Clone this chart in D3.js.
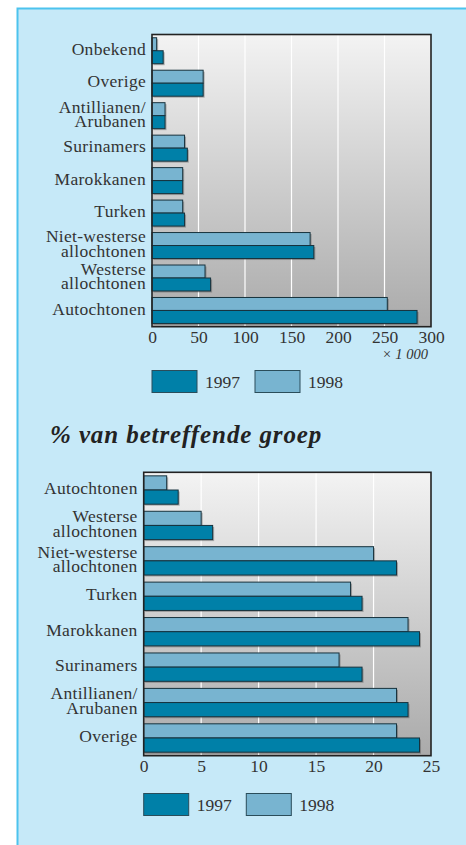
<!DOCTYPE html>
<meta charset="utf-8">
<style>
	body { margin: 0; background: #fff; }
</style>
<svg width="466" height="845"></svg>
<script src="https://d3js.org/d3.v7.min.js"></script>
<script>
	// absolute aantallen (x 1000)
	var catsAbs = ['Onbekend', 'Overige', 'Antillianen/|Arubanen', 'Surinamers', 'Marokkanen', 'Turken',
		'Niet-westerse|allochtonen', 'Westerse|allochtonen', 'Autochtonen']
	var abs1997 = [12, 55, 14, 38, 33, 35, 174, 63, 285]
	var abs1998 = [5, 55, 14, 35, 33, 33, 170, 57, 253]
	var absTicks = [0, 50, 100, 150, 200, 250, 300]

	// % van betreffende groep
	var catsPct = ['Autochtonen', 'Westerse|allochtonen', 'Niet-westerse|allochtonen', 'Turken', 'Marokkanen',
		'Surinamers', 'Antillianen/|Arubanen', 'Overige']
	var pct1997 = [3, 6, 22, 19, 24, 19, 23, 24]
	var pct1998 = [2, 5, 20, 18, 23, 17, 22, 22]
	var pctTicks = [0, 5, 10, 15, 20, 25]

	var years = ['1998', '1997']
	var colors = { '1997': '#0080a8', '1998': '#78b4d0' }
	var serif = '"Liberation Serif", "DejaVu Serif", "Noto Serif", serif'

	var svg = d3.select('svg')

	// achtergrond paneel
	svg.append('rect')
		.attr('x', 17.5).attr('y', 8.5)
		.attr('width', 470).attr('height', 860)
		.attr('fill', '#c6e9f8')
		.attr('stroke', '#4cc3ee')
		.attr('stroke-width', 2)

	var defs = svg.append('defs')
	var grad = defs.append('linearGradient')
		.attr('id', 'plotbg')
		.attr('x1', 0).attr('y1', 0).attr('x2', 0).attr('y2', 1)
	grad.append('stop').attr('offset', '0%').attr('stop-color', '#f3f3f3')
	grad.append('stop').attr('offset', '100%').attr('stop-color', '#aaaaaa')

	function drawChart(opt) {
		var data = opt.cats.map(function (c, i) {
			return { cat: c, '1997': opt.v1997[i], '1998': opt.v1998[i] }
		})

		var x = d3.scaleLinear().domain(opt.domain).range([opt.left, opt.right])
		var y = d3.scaleBand().domain(opt.cats).range([opt.top, opt.bottom])
			.paddingInner(0.2).paddingOuter(0.1)
		var ySub = d3.scaleBand().domain(years).range([0, y.bandwidth()])

		var g = svg.append('g')

		g.append('rect')
			.attr('x', opt.left).attr('y', opt.top)
			.attr('width', opt.right - opt.left).attr('height', opt.bottom - opt.top)
			.attr('fill', 'url(#plotbg)')

		// rasterlijnen
		g.selectAll('.grid')
			.data(opt.ticks.slice(1, -1))
			.enter().append('line')
			.attr('x1', function (d) { return x(d) })
			.attr('x2', function (d) { return x(d) })
			.attr('y1', opt.top).attr('y2', opt.bottom)
			.attr('stroke', '#fff')
			.attr('stroke-width', 1.2)

		var groups = g.selectAll('.cat')
			.data(data)
			.enter().append('g')
			.attr('transform', function (d) { return 'translate(0,' + y(d.cat) + ')' })

		years.forEach(function (yr) {
			groups.append('rect')
				.attr('x', x(0) + 1.5)
				.attr('y', ySub(yr) + 1.5)
				.attr('width', function (d) { return x(d[yr]) - x(0) })
				.attr('height', ySub.bandwidth())
				.attr('fill', 'rgba(60,60,60,0.35)')
		})
		years.forEach(function (yr) {
			groups.append('rect')
				.attr('x', x(0))
				.attr('y', ySub(yr))
				.attr('width', function (d) { return x(d[yr]) - x(0) })
				.attr('height', ySub.bandwidth())
				.attr('fill', colors[yr])
				.attr('stroke', '#17323d')
				.attr('stroke-width', 1)
		})

		g.append('rect')
			.attr('x', opt.left).attr('y', opt.top)
			.attr('width', opt.right - opt.left).attr('height', opt.bottom - opt.top)
			.attr('fill', 'none')
			.attr('stroke', '#222')
			.attr('stroke-width', 1.6)

		// categorie labels
		groups.each(function (d) {
			var lines = d.cat.split('|')
			var cy = y.bandwidth() / 2 - 2
			var t = d3.select(this).append('text')
				.attr('text-anchor', 'end')
				.attr('font-family', serif)
				.attr('font-size', 17.5)
				.attr('letter-spacing', 0.3)
				.attr('fill', '#333')
			lines.forEach(function (l, i) {
				t.append('tspan')
					.attr('x', opt.left - 6)
					.attr('y', cy + (i - (lines.length - 1) / 2) * 14.5)
					.attr('dy', '0.35em')
					.text(l)
			})
		})

		// x-as
		var axis = d3.axisBottom(x).tickValues(opt.ticks).tickSize(0).tickPadding(0)
		var ax = g.append('g')
			.attr('transform', 'translate(0,' + opt.bottom + ')')
			.call(axis)
		ax.attr('font-family', serif).attr('font-size', 17.5)
		ax.select('.domain').remove()
		ax.selectAll('text')
			.attr('y', 16)
			.attr('dy', 0)
			.attr('fill', '#333')

		// legenda
		var leg = svg.append('g').attr('transform', 'translate(' + opt.left + ',' + opt.legendY + ')')
		;['1997', '1998'].forEach(function (yr, i) {
			var lx = i * opt.legendStep
			leg.append('rect')
				.attr('x', lx).attr('y', 0)
				.attr('width', 45).attr('height', 22)
				.attr('fill', colors[yr])
				.attr('stroke', '#2a4d5a')
				.attr('stroke-width', 1)
			leg.append('text')
				.attr('x', lx + 53).attr('y', 17)
				.attr('font-family', serif)
				.attr('font-size', 17.5)
				.attr('fill', '#333')
				.text(yr)
		})
	}

	drawChart({
		cats: catsAbs, v1997: abs1997, v1998: abs1998, ticks: absTicks, domain: [0, 300],
		left: 152, right: 431, top: 34.5, bottom: 326.7, legendY: 370.5, legendStep: 103
	})

	svg.append('text')
		.attr('x', 428).attr('y', 359)
		.attr('text-anchor', 'end')
		.attr('font-family', serif)
		.attr('font-size', 14.5)
		.attr('font-style', 'italic')
		.attr('fill', '#333')
		.text('× 1 000')

	svg.append('text')
		.attr('x', 50).attr('y', 443)
		.attr('font-family', serif)
		.attr('font-size', 25)
		.attr('letter-spacing', 0.9)
		.attr('font-weight', 'bold')
		.attr('font-style', 'italic')
		.attr('fill', '#222')
		.text('% van betreffende groep')

	drawChart({
		cats: catsPct, v1997: pct1997, v1998: pct1998, ticks: pctTicks, domain: [0, 25],
		left: 143.7, right: 431, top: 472.3, bottom: 755.7, legendY: 793.5, legendStep: 102.6
	})
</script>
